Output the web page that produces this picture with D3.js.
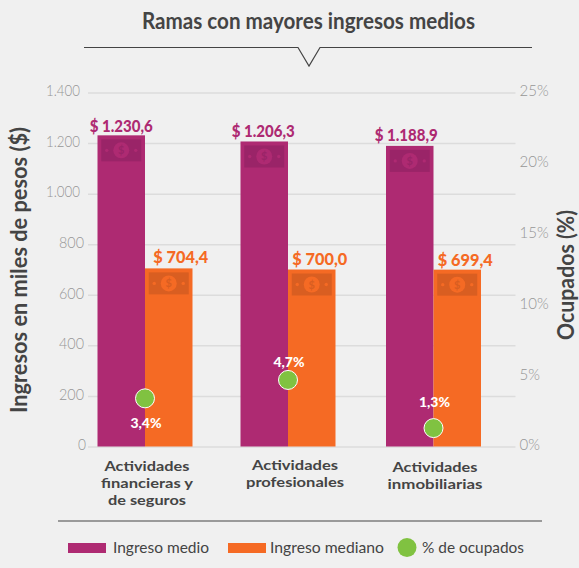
<!DOCTYPE html>
<html>
<head>
<meta charset="utf-8">
<script src="https://d3js.org/d3.v7.min.js"></script>
<style>
html, body { margin: 0; padding: 0; background: #f0f0f0; }
svg { display: block; font-family: Lato, sans-serif; }
</style>
</head>
<body>
<svg id="chart" width="579" height="568"></svg>
<script>
const categories = [
    ["Actividades", "financieras y", "de seguros"],
    ["Actividades", "profesionales"],
    ["Actividades", "inmobiliarias"]
]
const ingresoMedio = [1230.6, 1206.3, 1188.9]
const ingresoMediano = [704.4, 700.0, 699.4]
const ocupados = [3.4, 4.7, 1.3]
const leftTicks = [0, 200, 400, 600, 800, 1000, 1200, 1400]
const rightTicks = [0, 5, 10, 15, 20, 25]
const legendLabels = ["Ingreso medio", "Ingreso mediano", "% de ocupados"]

const colorMedio = "#ae2a72"
const colorMediano = "#f56a24"
const colorGreen = "#80c241"
const colorDark = "#444444"
const colorTick = "#969696"
const colorGrid = "#dcdcdc"

const locale = d3.formatLocale({ decimal: ",", thousands: ".", grouping: [3], currency: ["$", ""] })
const fmtThousands = locale.format(",d")
const fmtMoney = locale.format(",.1f")

const svg = d3.select("#chart")
const idx = categories.map((d, i) => i)

// the groups are not quite evenly spaced in the picture
const x = d3.scaleOrdinal().domain(idx).range([145, 288, 433.5])
const barW = 47.5
const yLeft = d3.scaleLinear().domain([0, 1400]).range([446.5, 92.5])
const yRight = d3.scaleLinear().domain([0, 25]).range([446.5, 92.5])

// squeeze a text to the width it has in the picture, the installed fonts differ a bit
function fit(sel, w) {
    sel.attr("textLength", w).attr("lengthAdjust", "spacingAndGlyphs")
    return sel
}

// title and its rule with the little notch
fit(svg.append("text")
    .attr("x", 308.5).attr("y", 29)
    .attr("text-anchor", "middle")
    .attr("font-size", 23).attr("font-weight", 700)
    .attr("fill", colorDark)
    .text("Ramas con mayores ingresos medios"), 333)

svg.append("path")
    .attr("d", "M84,47.5H298L309,66L320,47.5H532")
    .attr("fill", "none").attr("stroke", colorDark).attr("stroke-width", 1.2)

// axes
const gLeft = svg.append("g")
    .attr("transform", "translate(88,0)")
    .call(d3.axisLeft(yLeft).tickValues(leftTicks).tickSize(-427.5).tickPadding(8).tickFormat(fmtThousands))
const gRight = svg.append("g")
    .attr("transform", "translate(515.5,0)")
    .call(d3.axisRight(yRight).tickValues(rightTicks).tickSize(0).tickPadding(4).tickFormat(d => d + "%"))

gLeft.select(".domain").remove()
gRight.select(".domain").remove()
gLeft.selectAll(".tick line").attr("stroke", colorGrid).attr("stroke-width", 1.5)
gLeft.selectAll(".tick text")
    .attr("fill", colorTick).attr("font-size", 15).attr("font-weight", 300).attr("font-family", "Lato, sans-serif")
    .attr("dy", "0.22em")
    .attr("dx", d => d >= 1000 ? 0 : d > 0 ? 4 : 6)
    .attr("textLength", d => d >= 1000 ? 34 : d > 0 ? 25 : 8)
    .attr("lengthAdjust", "spacingAndGlyphs")
gRight.selectAll(".tick text")
    .attr("fill", colorTick).attr("font-size", 15).attr("font-weight", 300).attr("font-family", "Lato, sans-serif")
    .attr("dy", "0.22em")

// axis titles
fit(svg.append("text")
    .attr("transform", "translate(27,270) rotate(-90)")
    .attr("text-anchor", "middle")
    .attr("font-size", 22).attr("font-weight", 700)
    .attr("fill", colorDark)
    .text("Ingresos en miles de pesos ($)"), 286)
fit(svg.append("text")
    .attr("transform", "translate(574,275) rotate(-90)")
    .attr("text-anchor", "middle")
    .attr("font-size", 22).attr("font-weight", 700)
    .attr("fill", colorDark)
    .text("Ocupados (%)"), 130)

// bars
const series = [
    { values: ingresoMedio, color: colorMedio, dark: "#9a2468", left: d => x(d) - barW, labelDx: [0, -1, -3.5], labelDy: [3.5, 4.5, 5], labelW: 63 },
    { values: ingresoMediano, color: colorMediano, dark: "#d95e21", left: d => x(d), labelDx: [12, 8, 8], labelDy: [5, 5, 4], labelW: 55 }
]

series.forEach(s => {
    const g = svg.append("g")
    g.selectAll("rect.bar")
        .data(idx)
        .join("rect")
        .attr("class", "bar")
        .attr("x", s.left)
        .attr("y", d => yLeft(s.values[d]))
        .attr("width", barW)
        .attr("height", d => yLeft(0) - yLeft(s.values[d]))
        .attr("fill", s.color)

    // banknote icon at the top of each bar
    const note = g.selectAll("g.note")
        .data(idx)
        .join("g")
        .attr("class", "note")
        .attr("transform", d => "translate(" + (s.left(d) + barW / 2) + "," + (yLeft(s.values[d]) + 15) + ")")
    note.append("rect")
        .attr("x", -20).attr("y", -11).attr("width", 40).attr("height", 22)
        .attr("fill", s.dark)
    note.append("circle").attr("r", 8).attr("fill", s.color)
    note.append("circle").attr("cx", -14.5).attr("r", 1.7).attr("fill", s.color)
    note.append("circle").attr("cx", 14.5).attr("r", 1.7).attr("fill", s.color)
    note.append("text")
        .attr("text-anchor", "middle").attr("y", 4)
        .attr("font-size", 11).attr("font-weight", 700)
        .attr("fill", s.dark)
        .text("$")

    fit(g.selectAll("text.value")
        .data(idx)
        .join("text")
        .attr("class", "value")
        .attr("x", d => s.left(d) + barW / 2 + s.labelDx[d])
        .attr("y", d => yLeft(s.values[d]) - s.labelDy[d])
        .attr("text-anchor", "middle")
        .attr("font-size", 17.5).attr("font-weight", 900)
        .attr("fill", s.color)
        .text(d => "$ " + fmtMoney(s.values[d])), s.labelW)
})

// share of employed, dots
const dotLabelDy = [30, -13, -21]

svg.selectAll("circle.dot")
    .data(idx)
    .join("circle")
    .attr("class", "dot")
    .attr("cx", d => x(d))
    .attr("cy", d => yRight(ocupados[d]))
    .attr("r", 9.5)
    .attr("fill", colorGreen)
    .attr("stroke", "#fff").attr("stroke-width", 1)

svg.selectAll("text.dotlabel")
    .data(idx)
    .join("text")
    .attr("class", "dotlabel")
    .attr("x", d => x(d) + 1)
    .attr("y", d => yRight(ocupados[d]) + dotLabelDy[d])
    .attr("text-anchor", "middle")
    .attr("font-size", 14).attr("font-weight", 900)
    .attr("fill", "#fff")
    .text(d => String(ocupados[d]).replace(".", ",") + "%")

// category labels
const catDx = [2, 7, 1.5]
const catY = [471, 470, 472]
const catW = [[85, 92, 78], [86, 98], [85, 95]]
const cat = svg.selectAll("g.cat")
    .data(idx)
    .join("g")
    .attr("class", "cat")
cat.selectAll("text")
    .data(d => categories[d].map((t, i) => ({ t: t, g: d, i: i })))
    .join("text")
    .attr("x", d => x(d.g) + catDx[d.g])
    .attr("y", d => catY[d.g] + d.i * 16.8)
    .attr("text-anchor", "middle")
    .attr("font-size", 14).attr("font-weight", 700)
    .attr("fill", colorDark)
    .attr("textLength", d => catW[d.g][d.i])
    .attr("lengthAdjust", "spacingAndGlyphs")
    .text(d => d.t)

// bottom rule and legend
svg.append("line")
    .attr("x1", 58).attr("x2", 542).attr("y1", 521).attr("y2", 521)
    .attr("stroke", colorDark).attr("stroke-width", 1.2)

const legendY = 548
svg.append("rect").attr("x", 68).attr("y", legendY - 5).attr("width", 38).attr("height", 10).attr("fill", colorMedio)
svg.append("rect").attr("x", 228).attr("y", legendY - 5).attr("width", 38).attr("height", 10).attr("fill", colorMediano)
svg.append("circle").attr("cx", 407).attr("cy", legendY - 0.5).attr("r", 9.5).attr("fill", colorGreen)

const legendX = [113, 270, 422]
const legendW = [96, 114, 102]
legendLabels.forEach((t, i) => {
    fit(svg.append("text")
        .attr("x", legendX[i]).attr("y", legendY + 5)
        .attr("font-size", 16)
        .attr("fill", colorDark)
        .text(t), legendW[i])
})
</script>
</body>
</html>
